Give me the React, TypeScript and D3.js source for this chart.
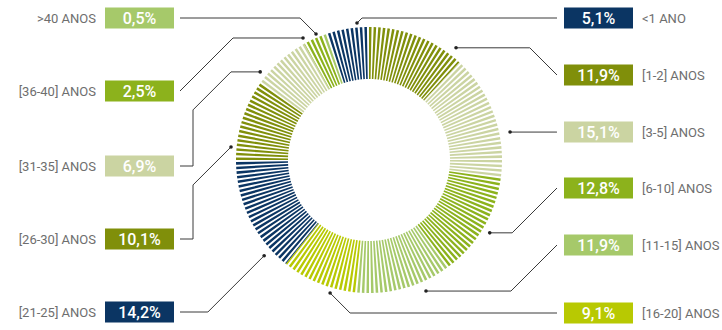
import React from 'react';
import * as d3 from 'd3';

// Age brackets, clockwise from the top of the ring
const CATEGORIES = [
  '<1 ANO',
  '[1-2] ANOS',
  '[3-5] ANOS',
  '[6-10] ANOS',
  '[11-15] ANOS',
  '[16-20] ANOS',
  '[21-25] ANOS',
  '[26-30] ANOS',
  '[31-35] ANOS',
  '[36-40] ANOS',
  '>40 ANOS',
];
const SHARES = [5.1, 11.9, 15.1, 12.8, 11.9, 9.1, 14.2, 10.1, 6.9, 2.5, 0.5];
const COLORS = [
  '#0b3563',
  '#808f0a',
  '#cbd4a2',
  '#8cb21c',
  '#a6c96a',
  '#b8c902',
  '#0b3563',
  '#808f0a',
  '#cbd4a2',
  '#8cb21c',
  '#a6c96a',
];

// Callout layout: which side the tag sits on, its row, where the leader touches the ring
type Route = 'diag' | 'horiz' | 'rail';
const CALLOUT_SIDE = ['right', 'right', 'right', 'right', 'right', 'right', 'left', 'left', 'left', 'left', 'left'];
const CALLOUT_ROW_Y = [18, 75, 132, 188, 245, 313, 312, 239, 166, 91, 18];
const CALLOUT_ANGLE = [-5, 37.8, 78.8, 121.1, 156.5, 196.3, 227.6, 275.4, 309, 331.6, 337.2];
const CALLOUT_RADIUS = [137.5, 142, 143.8, 141, 142.9, 138.6, 142, 138.6, 140, 138.7, 136.7];
const CALLOUT_ROUTE: Route[] = ['diag', 'horiz', 'horiz', 'horiz', 'horiz', 'diag', 'diag', 'rail', 'rail', 'horiz', 'diag'];

const W = 722;
const H = 330;
const CX = 369;
const CY = 160;
const R_OUT = 133;
const R_IN = 81;
const BAR_COUNT = 180;
const BAR_FILL = 0.55;
const BOX_W = 69;
const BOX_H = 21;
const LEFT_BOX_X = 105;
const RIGHT_BOX_X = 564;
const LEFT_LINE_END = 180;
const RIGHT_LINE_END = 557;
const RAIL_X = 193;
const RAIL_DIAG = 38;

const fmtShare = (v: number) => d3.format('.1f')(v).replace('.', ',') + '%';

export default function App() {
  const total = d3.sum(SHARES);
  const startAngle = -(SHARES[0] / total) * 2 * Math.PI;
  const pie = d3
    .pie<number>()
    .sort(null)
    .value((d) => d)
    .startAngle(startAngle)
    .endAngle(startAngle + 2 * Math.PI);
  const slices = pie(SHARES);

  const arcGen = d3.arc<any>().innerRadius(R_IN).outerRadius(R_OUT);

  // Ring of thin radial bars, each coloured by the slice it falls in
  const step = (2 * Math.PI) / BAR_COUNT;
  const bars: { d: string; color: string; key: string }[] = [];
  for (let k = 0; k < BAR_COUNT; k++) {
    let a0 = k * step;
    if (a0 >= startAngle + 2 * Math.PI) a0 -= 2 * Math.PI;
    const a1 = a0 + step * BAR_FILL;
    slices.forEach((s, i) => {
      const lo = Math.max(a0, s.startAngle);
      const hi = Math.min(a1, s.endAngle);
      if (hi > lo) {
        bars.push({
          d: arcGen({ startAngle: lo, endAngle: hi }) as string,
          color: COLORS[i],
          key: `${k}-${i}`,
        });
      }
    });
  }

  const callouts = CATEGORIES.map((cat, i) => {
    const side = CALLOUT_SIDE[i];
    const dir = side === 'right' ? 1 : -1;
    const theta = (CALLOUT_ANGLE[i] * Math.PI) / 180;
    const r = CALLOUT_RADIUS[i];
    const px = CX + r * Math.sin(theta);
    const py = CY - r * Math.cos(theta);
    const rowY = CALLOUT_ROW_Y[i];
    const edge = side === 'right' ? RIGHT_LINE_END : LEFT_LINE_END;
    const pts: [number, number][] = [[px, py]];
    const route = CALLOUT_ROUTE[i];
    if (route === 'diag') {
      const dy = Math.abs(rowY - py);
      pts.push([px + dir * dy, rowY]);
      pts.push([edge, rowY]);
    } else if (route === 'horiz') {
      const dy = Math.abs(rowY - py);
      pts.push([edge - dir * dy, py]);
      pts.push([edge, rowY]);
    } else {
      pts.push([RAIL_X + RAIL_DIAG, py]);
      pts.push([RAIL_X, py + RAIL_DIAG]);
      pts.push([RAIL_X, rowY]);
      pts.push([edge, rowY]);
    }
    const boxX = side === 'right' ? RIGHT_BOX_X : LEFT_BOX_X;
    return { cat, i, side, rowY, pts, px, py, boxX };
  });

  const line = d3.line();

  return (
    <svg
      width={W}
      height={H}
      style={{ position: 'absolute', left: 0, top: 0, background: '#fff' }}
    >
      <g>
        {bars.map((b) => (
          <path key={b.key} d={b.d} fill={b.color} transform={`translate(${CX},${CY})`} />
        ))}
      </g>
      <g>
        {callouts.map((c) => (
          <g key={c.cat}>
            <path d={line(c.pts) as string} fill="none" stroke="#3a3a3a" strokeWidth={1} />
            <circle cx={c.px} cy={c.py} r={1.8} fill="#222" />
            <rect
              x={c.boxX}
              y={c.rowY - BOX_H / 2}
              width={BOX_W}
              height={BOX_H}
              fill={COLORS[c.i]}
            />
            <text
              x={c.boxX + BOX_W / 2}
              y={c.rowY}
              dy="0.36em"
              textAnchor="middle"
              fill="#fff"
              fontFamily="Roboto, sans-serif"
              fontWeight={500}
              fontSize={16}
            >
              {fmtShare(SHARES[c.i])}
            </text>
            <text
              x={c.side === 'right' ? c.boxX + BOX_W + 9 : c.boxX - 9}
              y={c.rowY}
              dy="0.36em"
              textAnchor={c.side === 'right' ? 'start' : 'end'}
              fill="#6e6e6e"
              fontFamily="Roboto, sans-serif"
              fontSize={13}
            >
              {c.cat}
            </text>
          </g>
        ))}
      </g>
    </svg>
  );
}
